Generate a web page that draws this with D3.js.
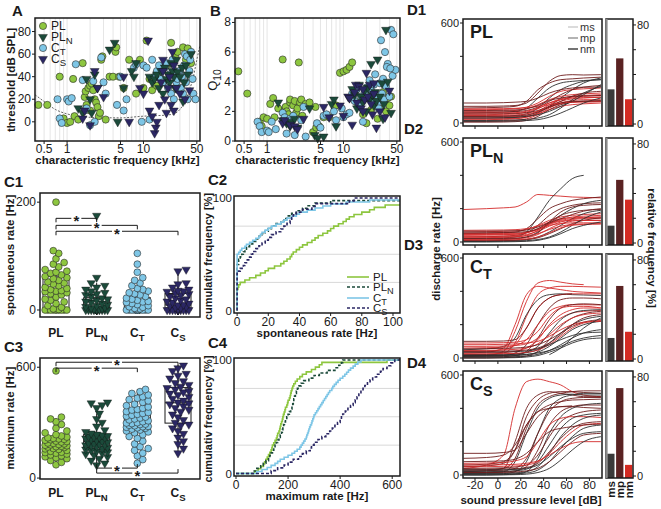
<!DOCTYPE html>
<html><head><meta charset="utf-8">
<script src="https://cdn.jsdelivr.net/npm/d3@7"></script>
<style>body{margin:0;background:#fff}svg{font-family:'Liberation Sans',Arial,sans-serif}</style>
</head><body><svg id="c" width="661" height="509"></svg>
<script>
// ---------------- DATA ----------------
const groups = ["PL","PLN","CT","CS"];
const groupMain = ["PL","PL","C","C"];
const groupSub = ["","N","T","S"];
const groupFill = ["#8dc63f","#1b4a3a","#7ec6e6","#2b2764"];
const groupShape = ["circle","tri","circle","tri"];
const groupDash = [null,"3,2",null,"3,2"];

// Panel A/B units: [CF kHz, threshold dB SPL, Q10]
const unitsPL = [[0.42,15,4.7],[0.55,15,3.2],[0.8,40,1.3],[0.85,0,1.0],[0.9,3,1.6],[1.0,-1,1.5],[1.1,0,2.5],[1.2,38,2.9],[1.25,5,1.6],[1.4,2,2.2],[1.6,52,5.5],[1.7,22,2.1],[1.75,27,2.3],[1.8,15,2.0],[1.9,30,1.8],[2.0,32,2.6],[2.0,10,2.8],[2.1,34,1.5],[2.2,28,2.4],[2.3,20,2.7],[2.4,17,1.9],[2.5,13,2.2],[2.6,5,5.3],[2.7,8,2.6],[2.8,55,2.8],[2.9,58,1.7],[3.2,2,2.5],[3.6,40,2.6],[4.0,40,0.6],[4.3,62,2.3],[4.4,66,0.9],[4.8,40,1.0],[5.5,30,1.6],[6.5,55,1.6],[8,25,2.4],[9,55,4.6],[10,30,4.7],[11,72,4.8],[12,38,5.0],[13,28,5.3],[15,32,2.6],[18,48,1.8],[20,50,1.2],[23,70,2.1],[26,58,2.8],[28,62,1.5],[30,45,2.2],[33,66,3.3],[36,55,2.0],[38,65,2.9],[40,58,2.4],[42,52,3.0]];
const unitsPLN = [[1.4,12,2.6],[1.6,8,1.4],[1.8,38,1.2],[2.0,20,1.0],[2.1,8,1.3],[2.3,42,1.5],[2.5,30,0.9],[3.6,64,2.2],[4.2,70,0.4],[4.6,0,0.2],[5.5,30,0.3],[7,45,2.5],[7.5,40,2.8],[8,52,1.0],[12,40,2.9],[13,35,3.5],[14,38,3.1],[15,42,2.2],[16,30,3.8],[17,45,3.0],[18,25,2.6],[19,48,3.4],[20,38,2.0],[21,42,3.6],[22,35,2.8],[23,52,5.2],[24,45,3.1],[25,40,2.4],[26,30,3.3],[27,55,2.7],[28,44,5.5],[30,40,3.0],[32,48,3.9],[34,35,2.5],[36,50,7.5],[38,42,4.0],[42,60,1.9],[33,18,1.5]];
const unitsCT = [[0.75,20,1.3],[0.8,3,1.0],[0.85,-1,0.6],[1.0,20,0.7],[1.05,18,0.6],[1.15,21,1.3],[1.3,51,0.8],[1.6,37,1.9],[1.7,10,1.6],[1.8,12,0.5],[2.0,-3,1.5],[2.2,36,1.7],[2.3,0,0.4],[2.8,57,1.4],[3.0,35,2.3],[3.2,25,0.3],[4.5,15,1.2],[5.0,40,0.9],[5.5,10,1.7],[6.0,20,1.8],[7.5,48,2.0],[8,51,1.4],[9.5,0,2.2],[10,50,1.6],[11,48,1.8],[12,2,1.9],[13,55,3.2],[14,40,2.7],[15,45,3.5],[16,50,2.4],[17,38,3.0],[18,35,1.3],[19,48,3.3],[20,52,3.6],[21,30,2.9],[22,42,4.1],[23,25,3.4],[24,55,2.6],[25,20,3.8],[26,45,4.5],[27,35,3.1],[28,38,2.5],[29,28,2.2],[30,45,3.9],[31,30,6.8],[32,40,3.2],[33,25,4.2],[34,50,2.8],[36,35,3.7],[38,20,5.2],[40,45,3.0],[42,62,7.5],[44,38,4.4],[45,25,7.2],[48,20,4.8],[35,60,6.0],[37,58,5.0],[41,55,4.9]];
const unitsCS = [[1.6,3,1.2],[1.7,10,1.4],[2.0,-3,1.1],[2.3,45,1.0],[2.5,30,0.8],[3.0,22,1.5],[5.5,40,2.3],[6.5,0,1.6],[9,30,2.4],[10,25,1.7],[11.5,72,3.0],[12,10,2.9],[13,5,1.1],[14,-10,3.3],[14.5,-5,3.8],[15,0,2.6],[16,15,3.7],[17,35,2.2],[18,45,3.5],[19,20,2.8],[20,8,4.6],[21,30,3.0],[22,40,3.8],[23,15,2.5],[24,62,1.8],[25,50,3.2],[27,30,0.9],[30,25,2.0],[35,20,1.6],[40,28,3.4],[18,55,2.0],[25,10,3.9]];
const audiogram = [[0.38,24],[0.5,18],[0.7,11],[1,7],[1.4,5],[2,4],[5,3.5],[10,5],[15,5.5],[20,6],[25,7],[30,11],[35,18],[40,28],[45,40],[50,55],[55,68]];
const freqTickLabels = [0.5,1,5,10,50];
const thrTicks = [0,20,40,60,80];
const q10Ticks = [0,2,4,6,8];

// Panel C1: spontaneous rate (Hz)
const spontPL = [0,0,0,0,0,0,0,0,0,0.5,1,2,5,8,12,15,18,20,24,28,30,32,34,35,36,38,40,42,45,48,50,52,55,58,60,62,65,68,70,72,75,80,85,88,95,105,110,200];
const spontPLN = [0,0,0,0,0,0,0,0,0,0,0,0,0,0,0,0,0,0,1,1,2,3,4,5,6,8,10,12,14,16,18,20,22,25,28,30,32,35,38,42,45,50,60,175];
const spontCT = [0,0,0,0,0,0,0,0,0,0,0,0,0,0,0,0,0,0,0,0,0,0,0,0,0,0,0,0,1,2,3,5,6,8,10,12,14,16,18,20,22,25,28,30,32,35,38,40,45,50,55,60,70,85,105,15];
const spontCS = [0,0,0,0,0,0,0,0,0,0,0,0,0,0,2,4,5,6,8,9,10,12,14,16,18,20,22,25,28,30,32,34,35,36,38,42,48,50,72,75];
// Panel C3: maximum rate (Hz)
const maxPL = [72,85,95,105,110,115,120,125,130,135,138,140,145,150,155,158,160,165,168,170,172,175,178,180,182,185,188,190,195,198,200,205,208,210,212,215,218,222,228,235,245,255,270,290,305,320,330,580];
const maxPLN = [70,80,95,105,115,125,130,135,140,145,150,155,160,165,170,175,178,180,183,186,190,195,200,205,210,215,218,220,222,225,228,232,236,242,250,260,280,300,320,350,380,395,405,410];
const maxCT = [80,100,120,135,150,160,170,185,200,215,225,235,245,250,255,260,265,270,272,275,278,280,283,286,290,292,295,298,300,305,310,315,320,325,330,335,340,345,350,355,360,368,372,378,385,392,400,410,418,425,432,440,450,458,468,480];
const maxCS = [135,160,185,200,220,240,255,270,285,290,300,315,330,345,360,370,380,390,400,405,410,420,430,440,450,458,465,472,480,488,495,505,515,525,540,555,565,580,595,610];
// significance brackets: [groupA, groupB, level]
const spontSig = [[0,1,170],[0,2,157],[0,3,146]];
const maxSigTop = [[0,3,627],[0,2,595]];
const maxSigBottom = [[1,2,54],[1,3,27]];

// Panel D: rate-level functions, first entry = response type (0 ms, 1 mp, 2 nm)
const splLevels = [-30,-10,5,15,25,35,45,55,65,75,90];
const rlPL = [
[1,100,100,102,105,120,180,250,285,290,288,290],[1,90,92,95,100,130,200,240,260,265,270,275],[0,60,62,65,70,90,150,210,240,250,255,260],
[0,40,40,42,45,55,90,150,200,230,250,260],[0,30,30,32,35,40,60,100,150,200,240,270],[2,80,80,82,85,95,120,160,190,200,205,210],
[2,70,70,72,75,85,110,140,160,170,175,180],[2,50,50,52,55,65,85,120,145,160,165,170],[2,20,20,22,25,35,60,100,130,145,150,155],
[2,10,10,12,15,25,50,90,120,135,140,140],[1,120,120,122,125,130,150,180,200,210,215,215],[2,35,35,36,38,45,70,110,140,155,160,165],
[1,55,55,56,58,62,75,100,130,160,180,190],[0,15,15,16,18,22,30,50,90,140,180,220],[2,25,25,26,28,35,55,80,100,110,115,120],
[2,45,45,46,48,55,70,95,115,125,130,130],[1,5,5,6,8,15,40,80,110,125,130,132],[1,65,65,66,68,75,95,130,170,200,215,225],
[2,85,85,86,88,92,100,120,140,150,152,155],[0,30,30,31,33,40,50,70,100,130,170,230],[2,60,60,61,62,70,90,110,120,125,125,128],
[0,10,10,11,12,15,20,35,60,90,120,150],[1,40,40,40,42,48,65,95,120,130,132,134],[1,75,75,76,78,85,105,135,150,160,162,165]];
const rlPLN = [
[2,195,200,205,210,240,285,280,275,270,268,265],[0,20,22,25,30,60,150,250,320,380,400,null],[1,50,52,55,60,80,140,200,230,250,260,270],
[1,30,32,35,40,55,100,160,200,220,230,235],[0,10,12,15,20,30,60,110,160,200,230,250],[2,60,62,64,66,75,100,130,150,160,165,170],
[2,40,42,44,46,55,80,110,130,140,145,150],[0,5,6,8,10,15,30,60,100,140,170,190],[2,25,26,28,30,40,70,110,135,150,155,160],
[2,70,71,72,74,80,95,120,140,145,148,150],[2,15,16,18,20,25,45,80,110,125,130,130],[2,35,35,36,38,45,65,95,120,135,140,140],
[1,8,8,9,10,14,25,50,80,110,130,145],[2,50,50,51,52,58,75,105,125,130,130,128],[1,20,20,21,23,30,55,120,180,210,220,225],
[2,45,45,46,48,55,75,100,110,115,115,115],[0,3,3,4,5,8,15,30,60,100,140,180],[2,30,30,31,32,38,50,75,95,105,108,110],
[1,55,56,57,58,62,80,120,160,180,190,195],[2,12,12,13,14,18,30,55,85,100,105,108],[1,65,65,66,67,72,90,115,140,165,185,200],
[0,0,0,1,2,4,10,25,50,80,100,120]];
const rlCT = [
[2,10,15,40,160,340,450,465,455,445,440,null],[2,30,35,60,200,380,430,420,410,400,395,390],[2,20,22,30,90,250,380,420,430,430,428,425],
[0,50,55,70,120,260,350,380,385,380,378,375],[2,40,42,50,80,180,300,360,380,385,385,385],[1,10,12,15,30,80,200,300,350,360,360,355],
[2,60,62,65,75,110,200,280,310,320,320,318],[1,5,6,8,15,40,120,230,300,320,325,320],[2,30,31,33,40,60,110,200,260,290,300,300],
[2,70,70,72,75,85,120,190,240,270,280,285],[0,15,16,18,22,35,70,150,230,270,285,290],[1,0,0,2,5,12,40,110,190,240,265,280],
[2,45,46,48,52,60,85,140,200,240,260,270],[0,20,21,22,25,32,50,90,150,200,230,250],[0,10,10,12,14,20,35,70,120,170,200,220],
[1,55,56,58,60,66,80,110,150,190,215,230],[2,25,25,26,28,34,48,80,130,180,210,225],[0,5,5,6,8,12,22,45,80,120,150,170],
[0,35,35,36,38,42,55,80,110,135,150,155],[2,80,80,82,84,90,100,130,170,200,215,220],[0,null,null,null,null,null,null,20,60,120,180,240],
[0,15,15,16,18,22,30,45,70,100,120,135],[1,40,40,41,43,48,60,90,140,200,240,260],[1,100,100,102,110,180,300,360,380,385,null,null],
[0,0,0,1,2,6,15,35,60,90,110,120],[2,90,90,92,95,110,160,250,300,310,310,300]];
const rlCS = [
[2,40,60,120,400,560,575,560,540,500,480,470],[1,20,25,40,200,400,480,500,490,480,470,470],[1,50,55,70,150,350,450,490,500,500,495,490],
[0,10,12,20,80,250,400,460,480,485,480,480],[1,30,32,40,100,280,420,470,490,500,505,505],[1,60,65,80,150,300,380,400,410,410,405,400],
[0,5,6,8,20,80,250,400,460,480,490,490],[1,25,26,28,40,100,250,380,440,460,465,465],[1,100,105,120,180,300,380,420,440,450,452,455],
[0,0,0,2,5,20,100,250,350,400,420,430],[1,15,16,18,25,50,150,300,380,410,420,420],[1,40,41,43,48,60,120,230,320,360,380,390],
[2,70,72,75,85,110,200,300,340,350,350,345],[0,20,20,22,25,35,80,180,280,340,360,370],[0,10,10,11,13,20,50,130,230,300,340,360],
[1,35,35,36,38,45,70,140,220,280,310,320],[2,50,50,52,54,60,80,130,200,260,300,310],[0,5,5,6,8,12,30,80,160,230,280,300],
[0,30,30,31,33,40,60,110,170,220,250,260],[1,15,15,16,18,25,40,80,140,200,240,250],[2,60,60,62,64,70,85,120,160,190,200,200],
[0,0,0,1,2,5,15,40,90,150,200,230],[1,130,130,135,150,250,350,400,410,415,null,null],[1,80,82,85,95,130,200,260,280,290,300,305]];
const responseTypes = ["ms","mp","nm"];
const typeFreqPL = [28,53,20];
const typeFreqPLN = [14,51,35];
const typeFreqCT = [17,59,22];
const typeFreqCS = [18,71,9];
const splTicks = [-20,0,20,40,60,80];

// ---------------- STYLE / HELPERS ----------------
const svg = d3.select("#c");
const INK = "#1a1a1a";
const typeColor = ["#2e2e2e","#6e1c1c","#d42a2a"];
const barColor = ["#3a3a3a","#5a2222","#d42a22"];
const legendGrey = ["#cfcfcf","#9a9a9a","#444"];

function frame(x0,y0,x1,y1){
  svg.append("rect").attr("x",x0).attr("y",y0).attr("width",x1-x0).attr("height",y1-y0)
    .attr("fill","none").attr("stroke",INK).attr("stroke-width",1.5);
}
function txt(x,y,s,opt={}){
  const t = svg.append("text").attr("x",x).attr("y",y).attr("font-size",opt.size||12)
    .attr("text-anchor",opt.anchor||"start").attr("fill",opt.fill||INK).text(s);
  if(opt.bold) t.attr("font-weight","bold");
  if(opt.rot!==undefined) t.attr("transform",`rotate(${opt.rot},${x},${y})`);
  return t;
}
function subText(x,y,main,sub,opt={}){
  const size = opt.size||12;
  const t = svg.append("text").attr("x",x).attr("y",y).attr("font-size",size)
    .attr("text-anchor",opt.anchor||"start").attr("fill",INK);
  if(opt.bold) t.attr("font-weight","bold");
  t.append("tspan").text(main);
  if(sub) t.append("tspan").attr("dy",size*(opt.subDy||0.32)).attr("font-size",size*0.8).text(sub);
  if(opt.rot!==undefined) t.attr("transform",`rotate(${opt.rot},${x},${y})`);
  return t;
}
function marker(g,gi,x,y,r){
  if(groupShape[gi]==="circle"){
    g.append("circle").attr("cx",x).attr("cy",y).attr("r",r).attr("fill",groupFill[gi])
      .attr("stroke","#2a2a2a").attr("stroke-width",0.6);
  } else {
    g.append("path").attr("d",d3.symbol().type(d3.symbolTriangle).size(r*r*2.6)())
      .attr("transform",`translate(${x},${y}) rotate(180)`).attr("fill",groupFill[gi])
      .attr("stroke","#111").attr("stroke-width",0.4);
  }
}
function label(x,y,s){ txt(x,y,s,{size:15,bold:true}); }

// ---------------- PANELS A & B ----------------
const unitSets = [unitsPL,unitsPLN,unitsCT,unitsCS];
const drawOrder = [0,2,1,3];
function freqPanel(x0,x1,yDomain,yTicks,field){
  const x = d3.scaleLog().domain([0.38,55]).range([x0,x1]);
  const y = d3.scaleLinear().domain(yDomain).range([141,18]);
  const g = svg.append("g");
  g.selectAll("line.grid").data(x.ticks()).join("line")
    .attr("x1",d=>x(d)).attr("x2",d=>x(d)).attr("y1",18).attr("y2",141)
    .attr("stroke","#dedede").attr("stroke-width",0.8);
  if(field===1){
    g.append("path").datum(audiogram).attr("fill","none").attr("stroke","#666")
      .attr("stroke-width",1).attr("stroke-dasharray","2,1.5")
      .attr("d",d3.line().x(d=>x(d[0])).y(d=>y(d[1])).curve(d3.curveMonotoneX));
  }
  drawOrder.forEach(gi=>unitSets[gi].forEach(u=>marker(g,gi,x(u[0]),y(u[field]),3.6)));
  frame(x0,18,x1,141);
  freqTickLabels.forEach(v=>{
    svg.append("line").attr("x1",x(v)).attr("x2",x(v)).attr("y1",141).attr("y2",144).attr("stroke",INK);
    txt(x(v),153,String(v),{anchor:"middle"});
  });
  yTicks.forEach(v=>{
    svg.append("line").attr("x1",x0-3).attr("x2",x0).attr("y1",y(v)).attr("y2",y(v)).attr("stroke",INK);
    txt(x0-4,y(v)+4,String(v),{anchor:"end"});
  });
  txt((x0+x1)/2,164,"characteristic frequency [kHz]",{anchor:"middle",bold:true,size:11.5});
}
freqPanel(35,200,[-17,92],thrTicks,1);
freqPanel(235,400,[0,8.3],q10Ticks,2);
txt(15,80,"threshold [dB SPL]",{anchor:"middle",rot:-90,bold:true,size:11.5});
subText(217,80,"Q","10",{anchor:"middle",rot:-90,size:13});
// legend A
[26,37,48,59].forEach((yy,gi)=>{
  marker(svg,gi,43,yy,3.6);
  subText(51,yy+4,groupMain[gi],groupSub[gi],{size:12,subDy:0.25});
});
label(12,16,"A"); label(210,16,"B");

// ---------------- PANELS C1 & C3 ----------------
function swarm(values,cx,yS,r,maxW){
  const idx = values.map((v,i)=>i).sort((a,b)=>values[a]-values[b]);
  const placed=[]; const out=[];
  const step=r*0.8;
  idx.forEach(i=>{
    const yy=yS(values[i]); let best=0, bestScore=-1;
    const kmax=Math.floor(maxW/step)*2;
    for(let k=0;k<=kmax;k++){
      const off=(k%2?1:-1)*Math.ceil(k/2)*step;
      let m=Infinity;
      placed.forEach(p=>{const d=Math.hypot(p[0]-(cx+off),p[1]-yy); if(d<m)m=d;});
      if(m>=2*r*0.85){best=off;bestScore=Infinity;break;}
      if(m>bestScore){bestScore=m;best=off;}
    }
    placed.push([cx+best,yy]); out.push([cx+best,yy,values[i]]);
  });
  return out;
}
function boxStats(v){
  const s=v.slice().sort((a,b)=>a-b);
  const q1=d3.quantile(s,.25),q2=d3.quantile(s,.5),q3=d3.quantile(s,.75),iqr=q3-q1;
  const lo=d3.min(s.filter(d=>d>=q1-1.5*iqr)),hi=d3.max(s.filter(d=>d<=q3+1.5*iqr));
  return {q1,q2,q3,lo,hi};
}
function bracket(x1,x2,yy,dir){
  svg.append("path").attr("d",`M${x1},${yy+dir*4}V${yy}H${x2}V${yy+dir*4}`)
    .attr("fill","none").attr("stroke",INK).attr("stroke-width",1);
  const mx=(x1+x2)/2;
  svg.append("rect").attr("x",mx-5).attr("y",yy-3).attr("width",10).attr("height",6).attr("fill","#fff");
  txt(mx,yy+8,"*",{anchor:"middle",size:15,bold:true});
}
function swarmPanel(top,bottom,yDomain,tickVals,sets,catY,sigs){
  const x = d3.scalePoint().domain(groups).range([56,178]);
  const y = d3.scaleLinear().domain(yDomain).range([bottom,top]);
  const g = svg.append("g");
  sets.forEach((vals,gi)=>{
    const cx=x(groups[gi]); const b=boxStats(vals); const w=13;
    g.append("line").attr("x1",cx).attr("x2",cx).attr("y1",y(b.lo)).attr("y2",y(b.hi)).attr("stroke",INK);
    g.append("rect").attr("x",cx-w).attr("y",y(b.q3)).attr("width",2*w).attr("height",y(b.q1)-y(b.q3))
      .attr("fill","#fff").attr("stroke",INK).attr("stroke-width",1);
    g.append("line").attr("x1",cx-w).attr("x2",cx+w).attr("y1",y(b.q2)).attr("y2",y(b.q2)).attr("stroke",INK);
    swarm(vals,cx,y,3.4,11).forEach(p=>marker(g,gi,p[0],p[1],3.4));
  });
  sigs.forEach(s=>bracket(x(groups[s[0]]),x(groups[s[1]]),y(s[2]),s[3]));
  frame(40,top,200,bottom);
  tickVals.forEach(v=>{
    svg.append("line").attr("x1",37).attr("x2",40).attr("y1",y(v)).attr("y2",y(v)).attr("stroke",INK);
    txt(36,y(v)+4,String(v),{anchor:"end"});
  });
  groups.forEach((gname,gi)=>subText(x(gname),catY,groupMain[gi],groupSub[gi],{anchor:"middle",bold:true,size:12}));
}
swarmPanel(193,317,[-13,217],[0,200],[spontPL,spontPLN,spontCT,spontCS],337,
  spontSig.map(s=>[s[0],s[1],s[2],1]));
swarmPanel(358,479,[-5,650],[0,600],[maxPL,maxPLN,maxCT,maxCS],497,
  maxSigTop.map(s=>[s[0],s[1],s[2],1]).concat(maxSigBottom.map(s=>[s[0],s[1],s[2],-1])));
txt(14,255,"spontaneous rate [Hz]",{anchor:"middle",rot:-90,bold:true,size:11.5});
txt(14,418,"maximum rate [Hz]",{anchor:"middle",rot:-90,bold:true,size:11.5});
label(4,187,"C1"); label(4,352,"C3");

// ---------------- PANELS C2 & C4 ----------------
function ecdf(vals,xmax){
  const s=vals.slice().sort((a,b)=>a-b); const n=s.length;
  const pts=[[0,0]];
  const uniq=Array.from(new Set(s)).filter(v=>v<=xmax);
  uniq.forEach(v=>pts.push([v,d3.bisectRight(s,v)/n*100]));
  pts.push([xmax,pts[pts.length-1][1]]);
  return pts;
}
function cdfPanel(top,bottom,xDomain,xTicks,sets,title){
  const x=d3.scaleLinear().domain(xDomain).range([234,400]);
  const y=d3.scaleLinear().domain([-2.2,101.8]).range([bottom,top]);
  [25,50,75].forEach(v=>svg.append("line").attr("x1",234).attr("x2",400).attr("y1",y(v)).attr("y2",y(v))
    .attr("stroke","#d8d8d8").attr("stroke-width",1));
  const line=d3.line().x(d=>x(d[0])).y(d=>y(d[1])).curve(d3.curveStepAfter);
  sets.forEach((vals,gi)=>{
    const p=svg.append("path").datum(ecdf(vals,xDomain[1])).attr("fill","none")
      .attr("stroke",groupFill[gi]).attr("stroke-width",1.6).attr("d",line);
    if(groupDash[gi]) p.attr("stroke-dasharray",groupDash[gi]);
  });
  frame(234,top,400,bottom);
  xTicks.forEach(v=>{
    svg.append("line").attr("x1",x(v)).attr("x2",x(v)).attr("y1",bottom).attr("y2",bottom+3).attr("stroke",INK);
    txt(x(v),bottom+13,String(v),{anchor:"middle"});
  });
  [0,100].forEach(v=>txt(232,y(v)+4,String(v),{anchor:"end",size:11.5}));
  txt(317,bottom+24,title,{anchor:"middle",bold:true,size:11.5});
  txt(212,(top+bottom)/2+2,"cumulativ frequency [%]",{anchor:"middle",rot:-90,bold:true,size:11});
}
cdfPanel(196,313,[-2,104.5],[0,20,40,60,80,100],[spontPL,spontPLN,spontCT,spontCS],"spontaneous rate [Hz]");
cdfPanel(358,476,[-7.7,630],[0,200,400,600],[maxPL,maxPLN,maxCT,maxCS],"maximum rate [Hz]");
[277,287,298,308].forEach((yy,gi)=>{
  const l=svg.append("line").attr("x1",347).attr("x2",369).attr("y1",yy).attr("y2",yy)
    .attr("stroke",groupFill[gi]).attr("stroke-width",1.6);
  if(groupDash[gi]) l.attr("stroke-dasharray",groupDash[gi]);
  subText(373,yy+4,groupMain[gi],groupSub[gi],{size:11.5,subDy:0.25});
});
label(208,185,"C2"); label(208,348,"C4");

// ---------------- PANELS D ----------------
const dTops=[19,138,254,371];
const dSets=[rlPL,rlPLN,rlCT,rlCS];
const dFreq=[typeFreqPL,typeFreqPLN,typeFreqCT,typeFreqCS];
const dLabelY=[15,134,250,368];
const xD=d3.scaleLinear().domain([-30.5,91]).range([463,602]);
dTops.forEach((top,pi)=>{
  const bottom=top+107;
  const y=d3.scaleLinear().domain([-18,624]).range([bottom,top]);
  const line=d3.line().defined(d=>d[1]!==null).x(d=>xD(d[0])).y(d=>y(d[1])).curve(d3.curveMonotoneX);
  const g=svg.append("g");
  dSets[pi].forEach(c=>{
    g.append("path").datum(splLevels.map((l,i)=>[l,c[i+1]])).attr("fill","none")
      .attr("stroke",typeColor[c[0]]).attr("stroke-width",0.9).attr("d",line);
  });
  frame(463,top,602,bottom);
  [0,200,400,600].forEach(v=>svg.append("line").attr("x1",460).attr("x2",463).attr("y1",y(v)).attr("y2",y(v)).attr("stroke",INK));
  txt(459,y(600)+4,"600",{anchor:"end",size:11}); txt(459,y(0)+4,"0",{anchor:"end",size:11});
  splTicks.forEach(v=>svg.append("line").attr("x1",xD(v)).attr("x2",xD(v)).attr("y1",bottom).attr("y2",bottom+3).attr("stroke",INK));
  subText(470,top+19,groupMain[pi],groupSub[pi],{size:18,bold:true});
  // bar chart
  const xb=d3.scaleBand().domain(responseTypes).range([606.5,633]).paddingInner(0.18).paddingOuter(0.08);
  const yb=d3.scaleLinear().domain([-1.6,84.8]).range([bottom,top]);
  responseTypes.forEach((t,i)=>svg.append("rect").attr("x",xb(t)).attr("width",xb.bandwidth())
    .attr("y",yb(dFreq[pi][i])).attr("height",bottom-yb(dFreq[pi][i])).attr("fill",barColor[i]));
  frame(606,top,633,bottom);
  svg.append("line").attr("x1",606.5).attr("x2",606.5).attr("y1",top).attr("y2",bottom).attr("stroke","#8a8a8a").attr("stroke-width",2.2);
  [0,20,40,60,80].forEach(v=>svg.append("line").attr("x1",633).attr("x2",636).attr("y1",yb(v)).attr("y2",yb(v)).attr("stroke",INK));
  txt(637,yb(80)+4,"80",{size:11}); txt(637,yb(0)+4,"0",{size:11});
  label(pi===1||pi===2?404:407,dLabelY[pi],"D"+(pi+1));
  if(pi===3){
    splTicks.forEach(v=>txt(xD(v),bottom+11,String(v),{anchor:"middle",size:11.5}));
    responseTypes.forEach(t=>txt(xb(t)+xb.bandwidth()/2+4,bottom+3,t,{anchor:"end",rot:-90,bold:true,size:11.5}));
    txt(531,bottom+26,"sound pressure level [dB]",{anchor:"middle",bold:true,size:11.5});
  }
});
// legend in D1
[27,38,49].forEach((yy,i)=>{
  svg.append("line").attr("x1",568).attr("x2",578).attr("y1",yy).attr("y2",yy).attr("stroke",legendGrey[i]).attr("stroke-width",1.5);
  txt(580,yy+4,responseTypes[i],{size:11,fill:"#333"});
});
txt(440,249,"discharge rate [Hz]",{anchor:"middle",rot:-90,bold:true,size:11.5});
txt(648,248,"relative frequency [%]",{anchor:"middle",rot:90,bold:true,size:11.5});
</script></body></html>
